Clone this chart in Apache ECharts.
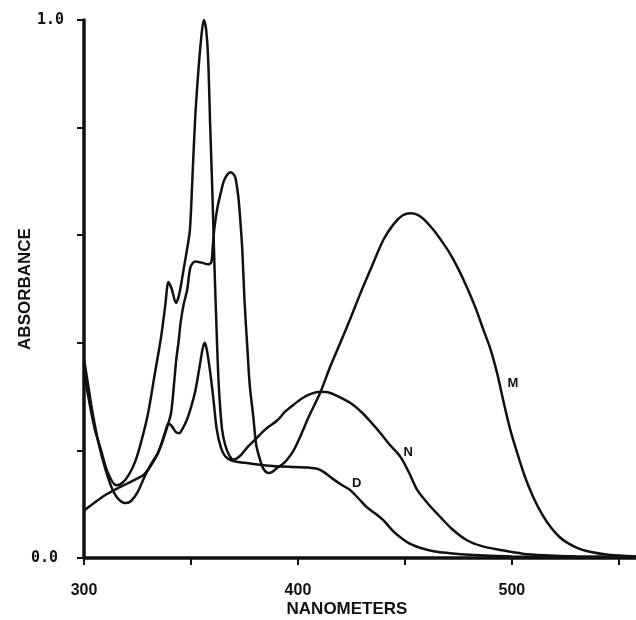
<!DOCTYPE html>
<html>
<head>
<meta charset="utf-8">
<script src="https://cdn.jsdelivr.net/npm/echarts@6/dist/echarts.min.js"></script>
<style>
  html, body { margin: 0; padding: 0; background: #fff; }
  #chart { width: 636px; height: 620px; }
</style>
</head>
<body>
<div id="chart"></div>
<script>
// wavelength (nm) / absorbance pairs
const curveM = [
  [300, 0.37], [302, 0.32], [304, 0.27], [307, 0.21], [310, 0.165], [313, 0.13],
  [316, 0.11], [319.7, 0.102], [322, 0.106], [325, 0.122], [328.3, 0.151],
  [331, 0.172], [334.5, 0.195], [337, 0.22], [339, 0.245], [340.7, 0.27],
  [342, 0.32], [343.1, 0.368], [344.3, 0.405], [345.1, 0.436], [346.5, 0.47],
  [348.2, 0.498], [349.8, 0.541], [352, 0.551], [355, 0.549], [358, 0.546],
  [359.5, 0.55], [360.2, 0.58], [361, 0.615], [362.4, 0.652], [364, 0.68],
  [365.3, 0.70], [367, 0.713], [368.6, 0.717], [370, 0.713], [370.8, 0.706],
  [371.5, 0.69], [372.3, 0.665], [373.2, 0.62], [374, 0.572], [375, 0.48],
  [376.4, 0.387], [377.5, 0.32], [379.2, 0.26], [380.5, 0.21], [382.5, 0.18],
  [384, 0.165], [386.2, 0.158], [388, 0.16], [390.4, 0.168], [393, 0.175],
  [395, 0.183], [398, 0.2], [401, 0.225], [405, 0.262], [410.5, 0.308],
  [415, 0.355], [420, 0.402], [424.5, 0.445], [429, 0.49], [434, 0.537],
  [440, 0.592], [445, 0.622], [449, 0.637], [452.6, 0.641], [456, 0.638],
  [459, 0.629], [463.3, 0.61], [467, 0.59], [471.2, 0.565], [475, 0.537],
  [479, 0.503], [483, 0.465], [486.7, 0.424], [490, 0.388], [493, 0.345],
  [496, 0.292], [499, 0.242], [502.5, 0.195], [506, 0.152], [510, 0.113],
  [514, 0.082], [518, 0.058], [522, 0.04], [526, 0.028], [531, 0.018],
  [537, 0.011], [545, 0.006], [558, 0.003]
];

const curveN = [
  [300, 0.35], [302, 0.30], [305, 0.24], [308, 0.20], [311, 0.16], [315, 0.135],
  [318, 0.14], [321, 0.155], [324, 0.18], [327, 0.22], [330, 0.27], [333, 0.34],
  [336, 0.41], [338, 0.47], [339.5, 0.513], [341, 0.50], [343, 0.474],
  [344.5, 0.49], [346.5, 0.535], [348, 0.57], [349.5, 0.61], [350.6, 0.70],
  [352, 0.82], [353.6, 0.913], [355, 0.975], [356, 1.0], [357, 0.985],
  [358, 0.93], [359, 0.80], [360, 0.68], [361, 0.54], [362, 0.42], [363, 0.32],
  [364.5, 0.24], [366, 0.21], [368, 0.19], [370, 0.183], [373, 0.19],
  [376.4, 0.206], [380, 0.22], [385, 0.24], [390.4, 0.256], [394, 0.272],
  [398, 0.285], [402, 0.297], [406, 0.305], [410.5, 0.309], [414, 0.308],
  [418, 0.302], [424.6, 0.288], [430, 0.27], [434, 0.253], [438.6, 0.232],
  [443, 0.21], [447.9, 0.188], [452, 0.158], [455.8, 0.126], [461, 0.1],
  [466.6, 0.076], [472, 0.054], [479, 0.033], [486, 0.022], [494.6, 0.015],
  [505, 0.008], [515, 0.005], [530, 0.003], [558, 0.002]
];

const curveD = [
  [300, 0.088], [305, 0.103], [310, 0.117], [315, 0.128], [320, 0.138],
  [325, 0.148], [328, 0.155], [331, 0.17], [334, 0.19], [336, 0.21],
  [338, 0.235], [339.5, 0.25], [341, 0.245], [343, 0.234], [344.5, 0.232],
  [346, 0.24], [348, 0.256], [350, 0.28], [352, 0.31], [354, 0.355],
  [355.5, 0.39], [356.5, 0.40], [357.5, 0.385], [359, 0.345], [360.5, 0.295],
  [362, 0.24], [364, 0.205], [366, 0.189], [369, 0.181], [375, 0.177],
  [385, 0.172], [398, 0.169], [405, 0.168], [409, 0.166], [412, 0.16],
  [416, 0.148], [420, 0.137], [424.5, 0.126], [428, 0.112], [432, 0.095],
  [436, 0.083], [440, 0.07], [444, 0.052], [448, 0.038], [452, 0.027],
  [457, 0.019], [464, 0.012], [471, 0.009], [480, 0.006], [490, 0.004],
  [500, 0.003], [558, 0.002]
];

// where the curve letters sit (data units)
const curveLabels = [
  { name: 'M', at: [500.5, 0.325] },
  { name: 'N', at: [451.5, 0.197] },
  { name: 'D', at: [427.5, 0.139] }
];

const xTickLabels = [300, 400, 500];
const yTickLabels = [0, 1];

const ink = '#111';
const labelFont = 'Liberation Sans';

const chart = echarts.init(document.getElementById('chart'));

function spectrum(name, data) {
  const lbl = curveLabels.find(l => l.name === name);
  return {
    name: name,
    type: 'line',
    data: data,
    showSymbol: false,
    smooth: 0.3,
    lineStyle: { color: ink, width: 2.5 },
    markPoint: {
      symbol: 'circle',
      symbolSize: 1,
      itemStyle: { color: 'rgba(0,0,0,0)' },
      label: {
        show: true,
        position: 'inside',
        formatter: name,
        color: ink,
        fontFamily: labelFont,
        fontWeight: 'bold',
        fontSize: 13
      },
      data: [{ coord: lbl.at }]
    }
  };
}

chart.setOption({
  animation: false,
  backgroundColor: '#fff',
  grid: {
    left: 84, right: 0, top: 20, bottom: 62,
    containLabel: false,
    outerBoundsMode: 'none'
  },
  xAxis: {
    type: 'value',
    min: 300,
    max: 558,
    interval: 50,
    name: 'NANOMETERS',
    nameLocation: 'middle',
    nameGap: 43,
    nameMoveOverlap: false,
    nameTextStyle: {
      color: ink, fontFamily: labelFont, fontWeight: 'bold', fontSize: 17,
      padding: [0, 26, 0, 0]
    },
    axisLine: { show: true, onZero: false, lineStyle: { color: ink, width: 3.5 } },
    axisTick: { show: true, length: 7, lineStyle: { color: ink, width: 2 } },
    splitLine: { show: false },
    axisLabel: {
      margin: 25,
      color: ink,
      fontFamily: labelFont,
      fontWeight: 'bold',
      fontSize: 16,
      showMaxLabel: false,
      formatter: v => xTickLabels.includes(v) ? String(v) : ''
    }
  },
  yAxis: {
    type: 'value',
    min: 0,
    max: 1,
    interval: 0.2,
    name: 'ABSORBANCE',
    nameLocation: 'middle',
    nameGap: 50,
    nameMoveOverlap: false,
    nameRotate: 90,
    nameTextStyle: { color: ink, fontFamily: labelFont, fontWeight: 'bold', fontSize: 17 },
    axisLine: { show: true, lineStyle: { color: ink, width: 3.5 } },
    axisTick: { show: true, length: 7, lineStyle: { color: ink, width: 2 } },
    splitLine: { show: false },
    axisLabel: {
      margin: 20,
      color: ink,
      fontFamily: 'DejaVu Sans Mono',
      fontWeight: 'bold',
      fontSize: 15,
      formatter: v => {
        if (!yTickLabels.some(t => Math.abs(t - v) < 1e-9)) return '';
        return v === 0 ? '{low|0.0}' : v.toFixed(1);
      },
      rich: {
        low: {
          fontFamily: 'DejaVu Sans Mono', fontWeight: 'bold', fontSize: 15,
          color: ink, padding: [0, 6, 0, 0]
        }
      }
    }
  },
  series: [
    spectrum('M', curveM),
    spectrum('N', curveN),
    spectrum('D', curveD)
  ]
});
</script>
</body>
</html>
